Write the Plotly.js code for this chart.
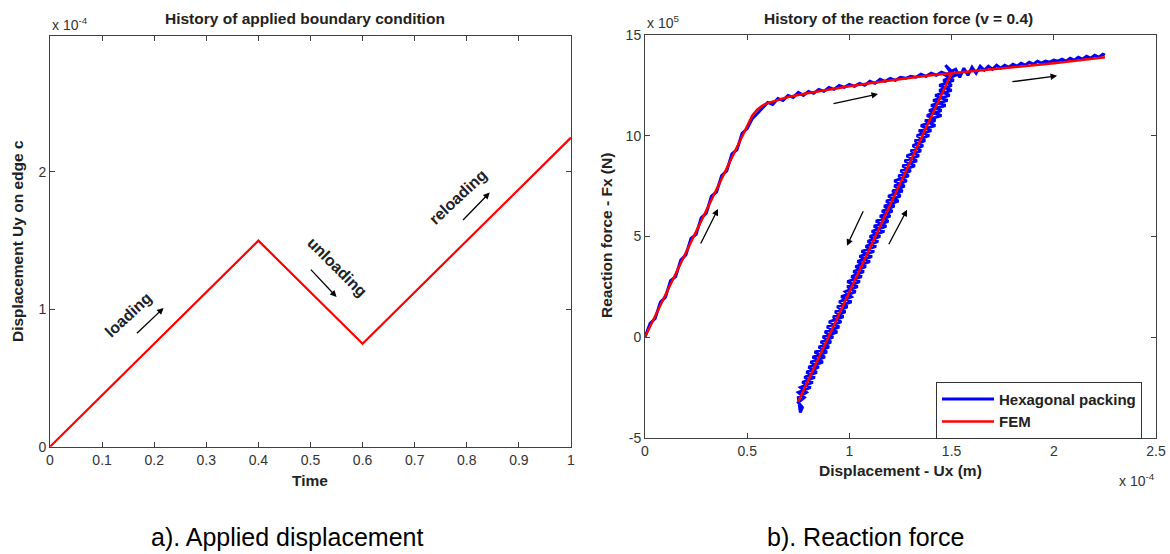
<!DOCTYPE html>
<html>
<head>
<meta charset="utf-8">
<script src="https://cdn.plot.ly/plotly-3.0.1.min.js"></script>
<style>html,body{margin:0;padding:0;background:#fff;}#chart{width:1170px;height:554px;}</style>
</head>
<body>
<div id="chart"></div>
<script>
// ---------- a) Applied displacement (Uy in units of 1e-4 m) ----------
const time = [0, 0.4, 0.6, 1.0];
const uyEdgeC = [0, 1.5, 0.75, 2.25];

// ---------- b) Reaction force: FEM (Ux in 1e-4 m, Fx in 1e5 N) ----------
const femUx = [0, 0.5, 0.525, 0.55, 0.575, 0.6, 0.7, 0.8, 0.9, 1.0, 1.1, 1.2, 1.3, 1.4, 1.5, 0.75, 1.5, 1.75, 2.0, 2.25];
const femFx = [0, 10.5, 11.0, 11.3, 11.5, 11.62, 11.92, 12.12, 12.3, 12.45, 12.6, 12.75, 12.88, 13.0, 13.1, -3.2, 13.1, 13.35, 13.6, 13.9];

// Hexagonal packing (noisy)
const hexLoadUx = [0, 0.025, 0.05, 0.075, 0.1, 0.125, 0.15, 0.175, 0.2, 0.225, 0.25, 0.275, 0.3, 0.325, 0.35, 0.375, 0.4, 0.425, 0.45, 0.475, 0.5, 0.525, 0.55];
const hexLoadFx = [0, 0.68, 0.92, 1.72, 1.98, 2.8, 3.0, 3.82, 4.08, 4.9, 5.1, 5.92, 6.15, 7.0, 7.2, 8.02, 8.25, 9.1, 9.3, 10.12, 10.35, 10.85, 11.1];
const hexPlateauUx = [0.575, 0.6, 0.625, 0.65, 0.675, 0.7, 0.725, 0.75, 0.775, 0.8, 0.825, 0.85, 0.875, 0.9, 0.925, 0.95, 0.975, 1.0, 1.025, 1.05, 1.075, 1.1, 1.125, 1.15, 1.175, 1.2, 1.225, 1.25, 1.275, 1.3, 1.325, 1.35, 1.375, 1.4, 1.425, 1.45, 1.475, 1.5];
const hexPlateauFx = [11.35, 11.65, 11.55, 11.85, 11.75, 12.0, 11.9, 12.15, 12.0, 12.2, 12.1, 12.3, 12.2, 12.4, 12.3, 12.5, 12.4, 12.55, 12.45, 12.6, 12.5, 12.7, 12.6, 12.8, 12.7, 12.85, 12.75, 12.9, 12.85, 12.95, 12.9, 13.05, 12.95, 13.1, 13.0, 13.15, 13.05, 13.1];
const hexUnloadUx = [1.47, 1.52, 1.46, 1.50, 1.44, 1.49, 1.41, 1.47, 1.39, 1.45, 1.37, 1.42, 1.34, 1.39, 1.32, 1.36, 1.30, 1.34, 1.27, 1.32, 1.25, 1.29, 1.22, 1.27, 1.21, 1.25, 1.18, 1.22, 1.16, 1.20, 1.13, 1.18, 1.11, 1.15, 1.09, 1.13, 1.06, 1.11, 1.04, 1.08, 1.02, 1.06, 0.99, 1.04, 0.98, 1.01, 0.95, 0.99, 0.93, 0.97, 0.90, 0.95, 0.88, 0.92, 0.86, 0.90, 0.83, 0.88, 0.81, 0.85, 0.79, 0.83, 0.77, 0.81, 0.75, 0.78, 0.75, 0.77, 0.76];
const hexUnloadFx = [13.5, 13.0, 12.75, 12.5, 12.25, 12.0, 11.75, 11.5, 11.25, 11.0, 10.75, 10.5, 10.25, 10.0, 9.75, 9.5, 9.25, 9.0, 8.75, 8.5, 8.25, 8.0, 7.75, 7.5, 7.25, 7.0, 6.75, 6.5, 6.25, 6.0, 5.75, 5.5, 5.25, 5.0, 4.75, 4.5, 4.25, 4.0, 3.75, 3.5, 3.25, 3.0, 2.75, 2.5, 2.25, 2.0, 1.75, 1.5, 1.25, 1.0, 0.75, 0.5, 0.25, 0.0, -0.25, -0.5, -0.75, -1.0, -1.25, -1.5, -1.75, -2.0, -2.25, -2.5, -2.75, -3.0, -3.25, -3.5, -3.75];
const hexReloadUx = [0.75, 0.79, 0.76, 0.82, 0.78, 0.84, 0.80, 0.87, 0.82, 0.89, 0.85, 0.91, 0.87, 0.94, 0.89, 0.96, 0.92, 0.98, 0.94, 1.01, 0.96, 1.03, 0.99, 1.05, 1.01, 1.07, 1.03, 1.10, 1.05, 1.12, 1.08, 1.14, 1.10, 1.17, 1.12, 1.19, 1.15, 1.21, 1.17, 1.24, 1.19, 1.26, 1.22, 1.28, 1.24, 1.30, 1.26, 1.33, 1.28, 1.35, 1.31, 1.37, 1.33, 1.40, 1.35, 1.42, 1.38, 1.45, 1.40, 1.48, 1.42, 1.50, 1.44, 1.51, 1.47, 1.50];
const hexReloadFx = [-3.0, -2.75, -2.5, -2.25, -2.0, -1.75, -1.5, -1.25, -1.0, -0.75, -0.5, -0.25, 0.0, 0.25, 0.5, 0.75, 1.0, 1.25, 1.5, 1.75, 2.0, 2.25, 2.5, 2.75, 3.0, 3.25, 3.5, 3.75, 4.0, 4.25, 4.5, 4.75, 5.0, 5.25, 5.5, 5.75, 6.0, 6.25, 6.5, 6.75, 7.0, 7.25, 7.5, 7.75, 8.0, 8.25, 8.5, 8.75, 9.0, 9.25, 9.5, 9.75, 10.0, 10.25, 10.5, 10.75, 11.0, 11.25, 11.5, 11.75, 12.0, 12.25, 12.5, 12.75, 13.0, 13.2];
const hexFinalUx = [1.52, 1.54, 1.56, 1.58, 1.60, 1.62, 1.64, 1.66, 1.68, 1.70, 1.72, 1.74, 1.76, 1.78, 1.80, 1.82, 1.84, 1.86, 1.88, 1.90, 1.92, 1.94, 1.96, 1.98, 2.00, 2.02, 2.04, 2.06, 2.08, 2.10, 2.12, 2.14, 2.16, 2.18, 2.20, 2.22, 2.24, 2.25];
const hexFinalFx = [13.3, 12.9, 13.35, 13.0, 13.4, 13.1, 13.45, 13.25, 13.45, 13.3, 13.5, 13.35, 13.5, 13.4, 13.55, 13.45, 13.6, 13.5, 13.65, 13.55, 13.7, 13.6, 13.7, 13.65, 13.75, 13.7, 13.8, 13.7, 13.85, 13.75, 13.9, 13.8, 13.95, 13.85, 14.0, 13.9, 14.05, 14.0];

const timeTicks = [0, 0.1, 0.2, 0.3, 0.4, 0.5, 0.6, 0.7, 0.8, 0.9, 1];
const uyTicks = [0, 1, 2];
const uxTicks = [0, 0.5, 1, 1.5, 2, 2.5];
const fxTickVals = [-5, 0, 5, 10, 15];
const fxTickText = ['-5', '0', '5', '10', '15'];

const hexUx = [].concat(hexLoadUx, hexPlateauUx, hexUnloadUx, hexReloadUx, hexFinalUx);
const hexFx = [].concat(hexLoadFx, hexPlateauFx, hexUnloadFx, hexReloadFx, hexFinalFx);

const W = 1170, H = 554;
const px = v => v / W;
const py = v => 1 - v / H;

const FONT = 'Liberation Sans, Arial, sans-serif';
const tickFont = {family: FONT, size: 14, color: '#333'};
const boldFont = {family: FONT, size: 15.5, color: '#222', weight: 'bold'};

const axisCommon = {
  showline: true, linecolor: '#404040', linewidth: 1, mirror: 'ticks',
  ticks: 'inside', ticklen: 5, tickcolor: '#404040', tickwidth: 1,
  showgrid: false, zeroline: false, tickfont: tickFont, fixedrange: true
};

const traces = [
  {x: time, y: uyEdgeC, xaxis: 'x', yaxis: 'y', mode: 'lines', line: {color: '#ff0000', width: 2.2}, showlegend: false},
  {x: hexUx, y: hexFx, xaxis: 'x2', yaxis: 'y2', mode: 'lines', name: 'Hexagonal packing', line: {color: '#0000ff', width: 3}},
  {x: femUx, y: femFx, xaxis: 'x2', yaxis: 'y2', mode: 'lines', name: 'FEM', line: {color: '#ff0000', width: 2.5}}
];

function arrow(xr, yr, tail, head) {
  return {xref: xr, yref: yr, axref: xr, ayref: yr, x: head[0], y: head[1], ax: tail[0], ay: tail[1],
    text: '', showarrow: true, arrowhead: 2, arrowsize: 1, arrowwidth: 1.3, arrowcolor: '#000'};
}
function txt(text, x, y, font, extra) {
  return Object.assign({xref: 'paper', yref: 'paper', x: px(x), y: py(y), text: text, showarrow: false,
    font: font, xanchor: 'center', yanchor: 'middle'}, extra || {});
}

const annFont = {family: FONT, size: 16, color: '#222', weight: 'bold'};
const capFont = {family: FONT, size: 25, color: '#000'};

const annotations = [
  txt('History of applied boundary condition', 305, 18, boldFont),
  txt('History of the reaction force (v = 0.4)', 898, 18, boldFont),
  txt('Time', 310, 480, boldFont),
  txt('Displacement - Ux (m)', 900, 470, boldFont),
  txt('Displacement Uy on edge c', 18, 241, boldFont, {textangle: -90}),
  txt('Reaction force - Fx (N)', 606, 236, boldFont, {textangle: -90}),
  txt('x 10<sup>-4</sup>', 50, 24, tickFont, {xanchor: 'left'}),
  txt('x 10<sup>5</sup>', 645, 22, tickFont, {xanchor: 'left'}),
  txt('x 10<sup>-4</sup>', 1157, 480, tickFont, {xanchor: 'right'}),
  txt('a). Applied displacement', 287, 537, capFont),
  txt('b). Reaction force', 865, 537, capFont),
  // left plot labels
  {xref: 'x', yref: 'y', x: 0.151, y: 0.96, text: 'loading', showarrow: false, textangle: -43, font: annFont},
  {xref: 'x', yref: 'y', x: 0.55, y: 1.31, text: 'unloading', showarrow: false, textangle: 45, font: annFont},
  {xref: 'x', yref: 'y', x: 0.784, y: 1.82, text: 'reloading', showarrow: false, textangle: -43, font: annFont},
  arrow('x', 'y', [0.164, 0.815], [0.218, 1.01]),
  arrow('x', 'y', [0.498, 1.30], [0.55, 1.09]),
  arrow('x', 'y', [0.790, 1.64], [0.844, 1.85]),
  // right plot arrows
  arrow('x2', 'y2', [0.269, 4.57], [0.357, 6.36]),
  arrow('x2', 'y2', [0.915, 11.58], [1.14, 12.07]),
  arrow('x2', 'y2', [1.071, 6.32], [0.988, 4.53]),
  arrow('x2', 'y2', [1.189, 4.53], [1.282, 6.32]),
  arrow('x2', 'y2', [1.79, 12.67], [2.016, 12.97])
];

const layout = {
  width: W, height: H,
  margin: {l: 0, r: 0, t: 0, b: 0},
  paper_bgcolor: '#fff', plot_bgcolor: '#fff',
  font: {family: FONT},
  xaxis: Object.assign({}, axisCommon, {domain: [px(50), px(571)], range: [0, 1], tickvals: timeTicks, anchor: 'y'}),
  yaxis: Object.assign({}, axisCommon, {domain: [py(446.7), py(36)], range: [0, 2.99], tickvals: uyTicks, anchor: 'x'}),
  xaxis2: Object.assign({}, axisCommon, {domain: [px(645), px(1156)], range: [0, 2.5], tickvals: uxTicks, anchor: 'y2'}),
  yaxis2: Object.assign({}, axisCommon, {domain: [py(437.7), py(35)], range: [-5, 15], tickvals: fxTickVals, ticktext: fxTickText, anchor: 'x2'}),
  showlegend: true,
  legend: {x: px(936), y: py(381.7), xanchor: 'left', yanchor: 'top', bgcolor: '#fff', bordercolor: '#333', borderwidth: 1,
    font: {family: FONT, size: 15, color: '#222', weight: 'bold'}, tracegroupgap: 0, itemwidth: 52},
  annotations: annotations
};

Plotly.newPlot('chart', traces, layout, {staticPlot: true, displayModeBar: false});
</script>
</body>
</html>
